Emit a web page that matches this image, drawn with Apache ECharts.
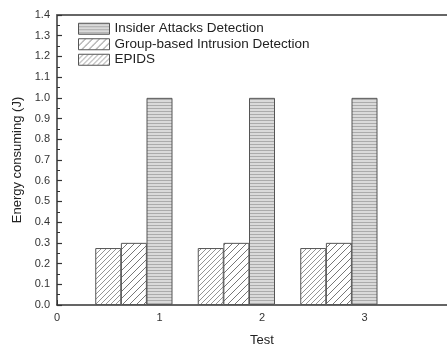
<!DOCTYPE html>
<html>
<head>
<meta charset="utf-8">
<script src="https://cdn.jsdelivr.net/npm/echarts@6/dist/echarts.min.js"></script>
<style>
  html, body { margin: 0; padding: 0; background: #fff; }
  #chart { width: 447px; height: 347px; }
</style>
</head>
<body>
<div id="chart"></div>
<script>
// data
const tests = [1, 2, 3];
const seriesNames = ['Insider Attacks Detection', 'Group-based Intrusion Detection', 'EPIDS'];
const insider = [1.0, 1.0, 1.0];
const groupBased = [0.3, 0.3, 0.3];
const epids = [0.275, 0.275, 0.275];
const yTicks = [0, 1.4];

// hatch patterns drawn on small canvases
function stripes(size, bg, line) {
  const c = document.createElement('canvas');
  c.width = size; c.height = size;
  const ctx = c.getContext('2d');
  ctx.fillStyle = bg;
  ctx.fillRect(0, 0, size, size);
  ctx.fillStyle = line;
  ctx.fillRect(0, 0, size, 1);
  return c;
}
function hatch(size, color, lw) {
  const c = document.createElement('canvas');
  c.width = size; c.height = size;
  const ctx = c.getContext('2d');
  ctx.fillStyle = '#fff';
  ctx.fillRect(0, 0, size, size);
  ctx.strokeStyle = color;
  ctx.lineWidth = lw;
  ctx.beginPath();
  ctx.moveTo(-1, size + 1); ctx.lineTo(size + 1, -1);
  ctx.moveTo(-1, 1); ctx.lineTo(1, -1);
  ctx.moveTo(size - 1, size + 1); ctx.lineTo(size + 1, size - 1);
  ctx.stroke();
  return c;
}

const chart = echarts.init(document.getElementById('chart'));

// bars sit left of each test value: EPIDS, Group-based, then Insider on the tick
const offsets = [0, -0.25, -0.5];
const values = [insider, groupBased, epids];
const patterns = [
  { image: stripes(3, '#dadada', '#ababab'), repeat: 'repeat' },
  { image: hatch(7, '#777', 1), repeat: 'repeat' },
  { image: hatch(5, '#888', 0.9), repeat: 'repeat' }
];

const series = seriesNames.map((name, i) => ({
  name: name,
  type: 'bar',
  xAxisIndex: 0,
  barWidth: 26,
  barGap: '-100%',
  data: tests.map((t, k) => [t + offsets[i], values[i][k]]),
  itemStyle: { color: patterns[i], borderColor: '#555', borderWidth: 1 }
}));

const font = 'Liberation Sans, Arial, sans-serif';

const option = {
  animation: false,
  backgroundColor: '#fff',
  // plot runs on past the right edge of the picture (x up to 4)
  grid: { left: 57, top: 15, height: 290, width: 410, outerBoundsMode: 'none', containLabel: false },
  legend: {
    orient: 'vertical',
    left: 73,
    top: 16,
    itemWidth: 31,
    itemHeight: 11,
    itemGap: 0,
    icon: 'rect',
    data: seriesNames,
    textStyle: { fontFamily: font, fontSize: 13.5, color: '#222', lineHeight: 15.5 },
    itemStyle: { borderColor: '#555', borderWidth: 1 }
  },
  xAxis: [{
    type: 'value',
    min: 0,
    max: 4,
    interval: 1,
    name: 'Test',
    nameLocation: 'middle',
    nameGap: 29,
    nameTextStyle: { fontFamily: font, fontSize: 13, color: '#222' },
    axisLine: { lineStyle: { color: '#333', width: 1.5 } },
    axisTick: { show: true, inside: true, length: 5, lineStyle: { color: '#333' } },
    axisLabel: { fontFamily: font, fontSize: 11, color: '#333', margin: 7 },
    splitLine: { show: false }
  }, {
    type: 'value',
    position: 'top',
    min: 0,
    max: 4,
    axisLine: { show: true, onZero: false, lineStyle: { color: '#666', width: 2 } },
    axisTick: { show: false },
    axisLabel: { show: false },
    splitLine: { show: false }
  }],
  yAxis: {
    type: 'value',
    min: yTicks[0],
    max: yTicks[1],
    interval: 0.1,
    name: 'Energy consuming (J)',
    nameLocation: 'middle',
    nameGap: 33,
    nameTextStyle: { fontFamily: font, fontSize: 13, color: '#222' },
    axisLine: { show: true, lineStyle: { color: '#333', width: 1.5 } },
    axisTick: { show: true, inside: true, length: 5, lineStyle: { color: '#333', width: 1.2 } },
    minorTick: { show: true, splitNumber: 2, length: 3, lineStyle: { color: '#333' } },
    axisLabel: {
      fontFamily: font, fontSize: 11, color: '#333', margin: 7,
      formatter: v => v.toFixed(1)
    },
    splitLine: { show: false }
  },
  series: series
};

chart.setOption(option);
</script>
</body>
</html>
